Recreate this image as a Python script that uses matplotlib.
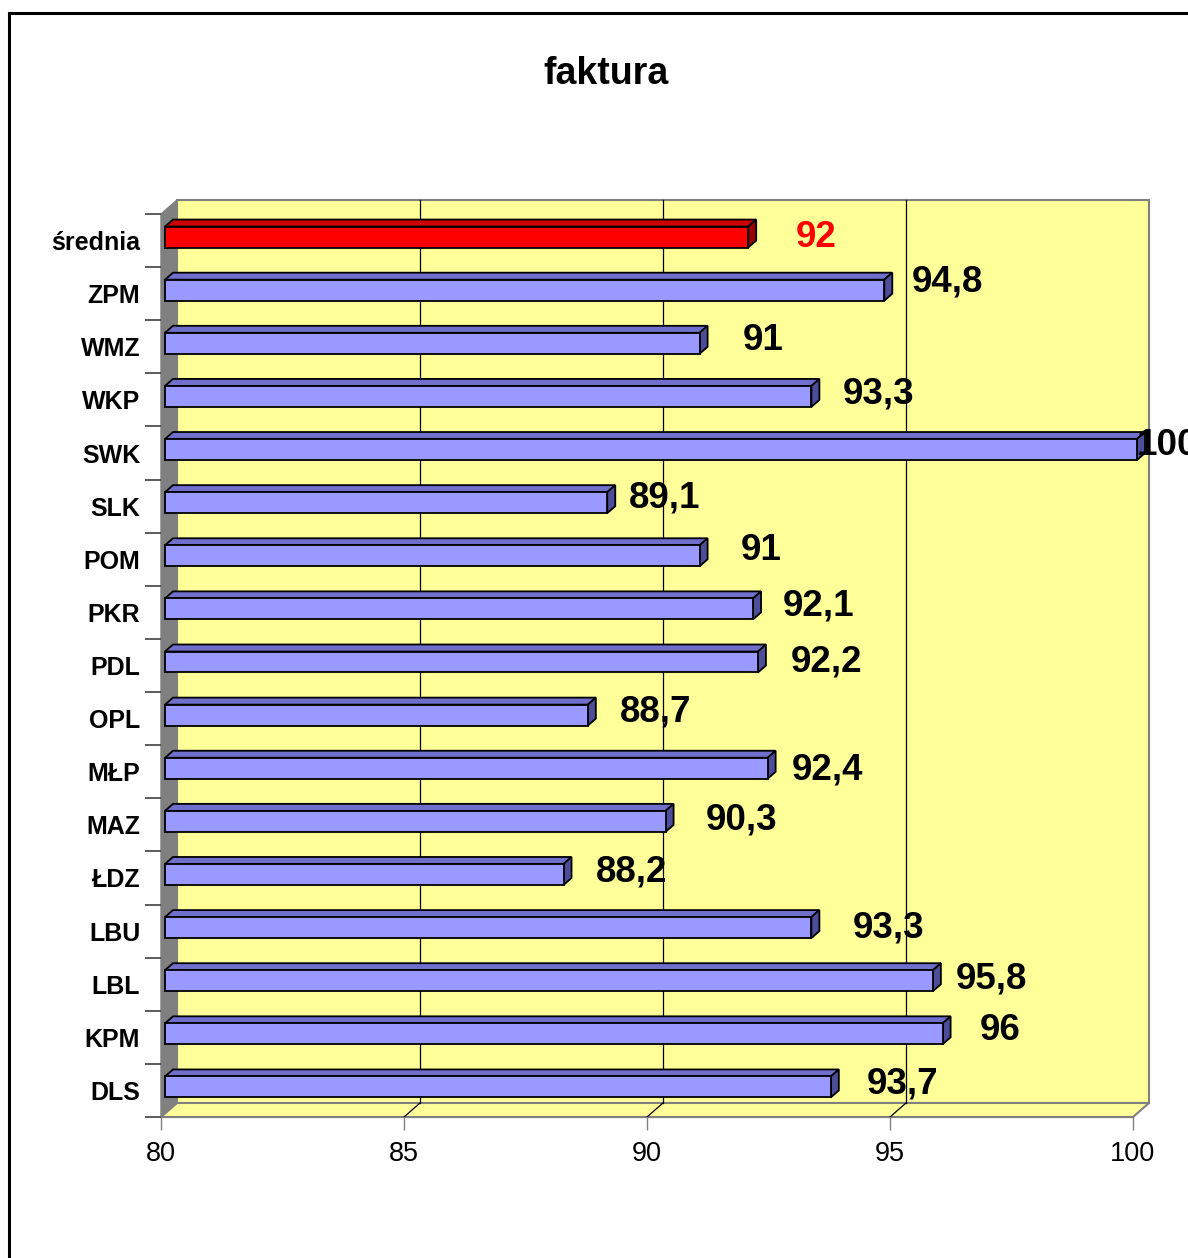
import matplotlib.pyplot as plt
from matplotlib.patches import Polygon, Rectangle

# dane z wykresu (od dolu do gory)
kategorie = ['DLS', 'KPM', 'LBL', 'LBU', 'ŁDZ', 'MAZ', 'MŁP', 'OPL', 'PDL',
             'PKR', 'POM', 'SLK', 'SWK', 'WKP', 'WMZ', 'ZPM', 'średnia']
wartosci = [93.7, 96, 95.8, 93.3, 88.2, 90.3, 92.4, 88.7, 92.2,
            92.1, 91, 89.1, 100, 93.3, 91, 94.8, 92]
etykiety = ['93,7', '96', '95,8', '93,3', '88,2', '90,3', '92,4', '88,7', '92,2',
            '92,1', '91', '89,1', '100', '93,3', '91', '94,8', '92']
x_ticks = [80, 85, 90, 95, 100]
tytul = 'faktura'

# przesuniecia etykiet (piksele) - recznie ustawione jak w oryginale
label_dx = [28, 29, 15, 33, 24, 32, 16, 24, 25, 22, 33, 14, -8, 23, 35, 19, 40]
label_dy = [3, 3, 2, 0, 2, 1, -2, 3, 0, 3, 5, 5, 4, 2, 3, 8, 0]

W, H = 1188, 1258
fig = plt.figure(figsize=(W / 100, H / 100), dpi=100)
plt.rcParams['font.family'] = ['Liberation Sans', 'DejaVu Sans']

# ramka zewnetrzna
fig.patches.append(Rectangle((9 / W, -0.1), 1.2, 1.1 - 13 / H,
                             transform=fig.transFigure, fill=False,
                             edgecolor='black', linewidth=2.2))

x0, x1 = 161, 1133
ytop, ybot = 214, 1117
ax = fig.add_axes([x0 / W, 1 - ybot / H, (x1 - x0) / W, (ybot - ytop) / H])
ax.set_xlim(80, 100)
ax.set_ylim(-0.5, len(kategorie) - 0.5)
ax.patch.set_visible(False)

px_x = 20 / (x1 - x0)            # jednostki na piksel w x
px_y = len(kategorie) / (ybot - ytop)
DX, DY = 16 * px_x, 14 * px_y    # glebokosc 3D
n = len(kategorie)
yb, yt = -0.5, n - 0.5
sciana = '#FFFF99'
szary = '#808080'

# sciana tylna
ax.add_patch(Rectangle((80 + DX, yb + DY), 20, n, facecolor=sciana,
                       edgecolor=szary, linewidth=1.5, clip_on=False, zorder=0))
# podloga
ax.add_patch(Polygon([(80, yb), (100, yb), (100 + DX, yb + DY), (80 + DX, yb + DY)],
                     closed=True, facecolor=sciana, edgecolor=szary,
                     linewidth=1.5, clip_on=False, zorder=0))
# sciana boczna
ax.add_patch(Polygon([(80, yb), (80, yt), (80 + DX, yt + DY), (80 + DX, yb + DY)],
                     closed=True, facecolor=szary, edgecolor=szary,
                     linewidth=1, clip_on=False, zorder=0.5))
# linie siatki
for t in x_ticks[1:-1]:
    ax.plot([t + DX, t + DX], [yb + DY, yt + DY], color='black', lw=0.9,
            clip_on=False, zorder=0.6)
    ax.plot([t, t + DX], [yb, yb + DY], color='black', lw=0.9,
            clip_on=False, zorder=0.6)

# slupki 3D
h = 0.395
d0, d1 = 0.25, 0.75
for i, v in enumerate(wartosci):
    sred = kategorie[i] == 'średnia'
    c_front = '#FF0000' if sred else '#9999FF'
    c_top = '#CC0000' if sred else '#7070CC'
    c_side = '#990000' if sred else '#4D4D99'
    bx0 = 80 + d0 * DX
    bx1 = v + d0 * DX
    by0 = i - h / 2 + d0 * DY
    by1 = i + h / 2 + d0 * DY
    ddx, ddy = (d1 - d0) * DX, (d1 - d0) * DY
    kw = dict(closed=True, edgecolor='black', linewidth=1.3, clip_on=False, zorder=3)
    ax.add_patch(Polygon([(bx0, by1), (bx1, by1), (bx1 + ddx, by1 + ddy),
                          (bx0 + ddx, by1 + ddy)], facecolor=c_top, **kw))
    ax.add_patch(Polygon([(bx1, by0), (bx1, by1), (bx1 + ddx, by1 + ddy),
                          (bx1 + ddx, by0 + ddy)], facecolor=c_side, **kw))
    ax.add_patch(Polygon([(bx0, by0), (bx1, by0), (bx1, by1), (bx0, by1)],
                         facecolor=c_front, **kw))
    ax.text(bx1 + ddx + label_dx[i] * px_x, i + d0 * DY + label_dy[i] * px_y,
            etykiety[i], ha='left', va='center', fontsize=26.5, fontweight='bold',
            color='red' if sred else 'black', zorder=4, clip_on=False)

# osie
for s in ['top', 'right']:
    ax.spines[s].set_visible(False)
ax.spines['left'].set_color(szary)
ax.spines['bottom'].set_color(szary)
ax.spines['left'].set_zorder(1)

ax.set_xticks(x_ticks)
ax.set_xticklabels([str(t) for t in x_ticks], fontsize=19.5)
ax.tick_params(axis='x', length=9.5, width=1, color=szary, pad=8)

ax.set_yticks(range(n))
ax.set_yticklabels(kategorie, fontsize=18, fontweight='bold')
ax.tick_params(axis='y', which='major', length=0, pad=15)
ax.set_yticks([k - 0.5 for k in range(n + 1)], minor=True)
ax.tick_params(axis='y', which='minor', length=11.5, width=1.2, color='#404040')

fig.text(606 / W, 1 - 74 / H, tytul, ha='center', va='center',
         fontsize=27, fontweight='bold')

plt.savefig('out.png', dpi=100)
